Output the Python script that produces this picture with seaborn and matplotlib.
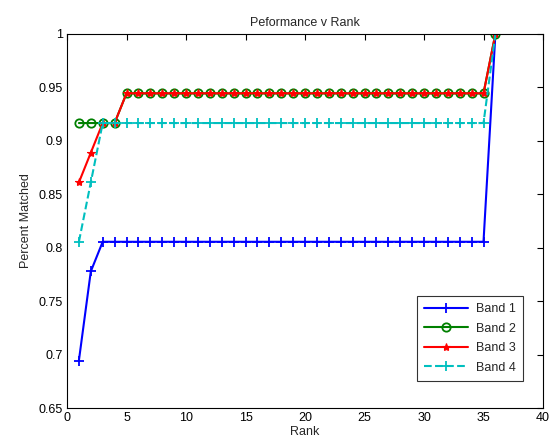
import numpy as np
import pandas as pd
import matplotlib
matplotlib.use("Agg")
import matplotlib.pyplot as plt
import seaborn as sns

ranks = list(range(1, 37))
band1 = [25/36, 28/36] + [29/36] * 33 + [1.0]
band2 = [33/36] * 4 + [34/36] * 31 + [1.0]
band3 = [31/36, 32/36, 33/36, 33/36] + [34/36] * 31 + [1.0]
band4 = [29/36, 31/36] + [33/36] * 33 + [1.0]

sns.set_style("white")
plt.rcParams['font.family'] = ['Liberation Sans', 'DejaVu Sans']

fig = plt.figure(figsize=(5.51, 4.48), dpi=100)
ax = fig.add_axes([67/551, 1 - 408/448, (543 - 67)/551, (408 - 34)/448])

styles = [
    ("Band 1", band1, "#0000ff", "+", "-", dict(markersize=7, markeredgewidth=1.3)),
    ("Band 2", band2, "#008000", "o", "-", dict(markersize=6, markerfacecolor="none", markeredgewidth=1.3)),
    ("Band 3", band3, "#ff0000", "*", "-", dict(markersize=6, markeredgewidth=0.8)),
    ("Band 4", band4, "#00bfbf", "+", "--", dict(markersize=7, markeredgewidth=1.3)),
]
for name, vals, col, mk, ls, kw in styles:
    df = pd.DataFrame({"Rank": ranks, "val": vals})
    sns.lineplot(data=df, x="Rank", y="val", ax=ax, color=col, marker=mk,
                 linestyle=ls, linewidth=1.5, label=name, markeredgecolor=col, **kw)

ax.set_xlim(0, 40)
ax.set_ylim(0.65, 1.0)
ax.set_xticks(np.arange(0, 41, 5))
ax.set_yticks(np.arange(0.65, 1.001, 0.05))
ax.set_yticklabels(["0.65", "0.7", "0.75", "0.8", "0.85", "0.9", "0.95", "1"])
ax.tick_params(direction="in", length=4, top=True, right=True, labelsize=9, colors="black", width=0.8, pad=3)
for s in ax.spines.values():
    s.set_visible(True)
    s.set_color("black")
    s.set_linewidth(0.8)
ax.set_xlabel("Rank", fontsize=9, labelpad=1)
ax.set_ylabel("Percent Matched", fontsize=9, labelpad=5)
ax.set_title("Peformance v Rank", fontsize=9, pad=6)
leg = ax.legend(loc="lower right", bbox_to_anchor=(0.958, 0.072), borderaxespad=0,
                frameon=True, fancybox=False,
                edgecolor="black", fontsize=9, handlelength=3.5, borderpad=0.6, labelspacing=0.6,
                handletextpad=0.6)
leg.get_frame().set_linewidth(0.8)
fig.savefig("out.png", dpi=100)
